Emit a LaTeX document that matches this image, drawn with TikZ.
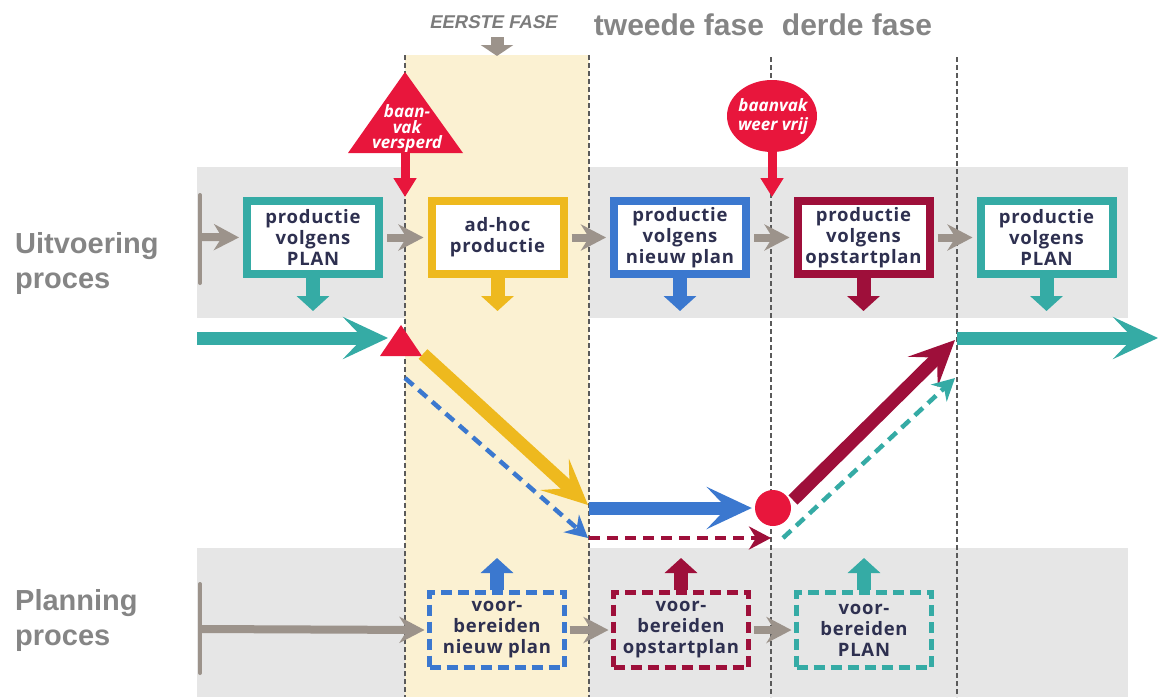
\documentclass[tikz,border=0pt]{standalone}
\usepackage{fontspec}
\setmainfont{Open Sans}
\newfontfamily\boxfont[LetterSpace=4]{Open Sans}
\newfontfamily\arialfont{Liberation Sans}
\newfontfamily\eerstefont[FakeSlant=0.2]{Liberation Sans}
\usetikzlibrary{arrows.meta,shapes.geometric}
\definecolor{tealc}{HTML}{35ABA5}
\definecolor{yelc}{HTML}{EEB91E}
\definecolor{bluc}{HTML}{3B78CF}
\definecolor{marc}{HTML}{9E0F3A}
\definecolor{redc}{HTML}{E8163C}
\definecolor{bandc}{HTML}{E6E6E6}
\definecolor{colc}{HTML}{FBF1D2}
\definecolor{garr}{HTML}{9C938B}
\definecolor{txtc}{HTML}{2E3050}
\definecolor{lblc}{HTML}{858585}
\definecolor{fasec}{HTML}{7C7C7C}
\definecolor{vlinec}{HTML}{5A5A5A}
\tikzset{
  pbox/.style={draw=#1, line width=8pt, fill=white, minimum width=132pt, minimum height=73pt,
    inner sep=0pt, text=txtc, align=center, font=\boxfont\fontsize{18.5}{21}\selectfont\bfseries},
  dbox/.style={draw=#1, line width=5pt, dash pattern=on 11pt off 6pt, minimum width=135pt,
    minimum height=75pt, inner sep=0pt, text=txtc, align=center, font=\boxfont\fontsize{18.5}{21}\selectfont\bfseries},
  gconn/.style={draw=garr, line width=8pt, -{Stealth[length=25pt,width=26pt,inset=8pt]}},
  blockdown/.style={draw=#1, line width=14pt, -{Triangle[length=15pt,width=32pt]}},
  redarr/.style={draw=redc, line width=9pt, -{Triangle[length=19pt,width=22pt]}},
  bigarr/.style={draw=#1, line width=13pt, -{Stealth[length=45pt,width=42pt,inset=20pt]}},
  dasharr/.style={draw=#1, line width=4.5pt, dash pattern=on 11pt off 7pt, -{Stealth[length=22pt,width=23pt,inset=7pt]}},
  vline/.style={draw=vlinec, line width=1.3pt, dash pattern=on 5pt off 3pt},
  lbl/.style={text=lblc, inner sep=0pt, anchor=base west, font=\arialfont\fontsize{29}{35}\selectfont\bfseries},
  phase/.style={text=lblc, inner sep=0pt, anchor=base, font=\arialfont\fontsize{30}{35}\selectfont\bfseries},
  redtxt/.style={text=white, inner sep=0pt, align=center},
}
\begin{document}
\begin{tikzpicture}[x=1pt,y=-1pt]
\useasboundingbox (0,0) rectangle (1159,697);
% bands
\fill[bandc] (197,167) rectangle (1128,318);
\fill[bandc] (197,548) rectangle (1128,697);
\fill[colc] (405,55) rectangle (589,697);
% vertical dashed lines
\draw[vline] (405,55) -- (405,697);
\draw[vline] (589,55) -- (589,697);
\draw[vline] (771,57) -- (771,697);
\draw[vline] (957,57) -- (957,697);
% headings
\node[text=fasec, inner sep=0pt, anchor=base, font=\eerstefont\fontsize{18.5}{20}\selectfont\bfseries] (f1) at (493,28.5) {EERSTE FASE};
\node[phase] (f2) at (679,35) {tweede fase};
\node[phase] (f3) at (857,35) {derde fase};
\coordinate (fa0) at (497,37);
\coordinate (fa1) at (497,56);
\draw[draw=garr, line width=13pt, -{Triangle[length=11pt,width=32pt]}] (fa0) -- (fa1);
% side labels
\node[lbl] (u1) at (15,253) {Uitvoering};
\node[lbl] (u2) at (15,288) {proces};
\node[lbl] (p1) at (15,610) {Planning};
\node[lbl] (p2) at (15,645) {proces};
% brackets
\coordinate (br1a) at (200,195); \coordinate (br1b) at (200,283);
\coordinate (br2a) at (200,584); \coordinate (br2b) at (200,673);
\draw[garr, line width=4pt, line cap=round] (br1a) -- (br1b);
\draw[garr, line width=4pt, line cap=round] (br2a) -- (br2b);
\coordinate (br1) at (200,237);
\coordinate (br2) at (200,629);
% production boxes
\node[pbox=tealc] (B1) at (313,237.5) {productie\\volgens\\PLAN};
\node[pbox=yelc] (B2) at (497.5,237.5) {ad-hoc\\productie};
\node[pbox=bluc] (B3) at (680,237.5) {productie\\volgens\\nieuw plan};
\node[pbox=marc] (B4) at (863.5,237.5) {productie\\volgens\\opstartplan};
\node[pbox=tealc] (B5) at (1046.5,237.5) {productie\\volgens\\PLAN};
\draw[gconn, shorten >=4pt] (br1) -- (B1.west);
\draw[gconn, shorten <=4pt, shorten >=4pt] (B1.east) -- (B2.west);
\draw[gconn, shorten <=4pt, shorten >=4pt] (B2.east) -- (B3.west);
\draw[gconn, shorten <=4pt, shorten >=4pt] (B3.east) -- (B4.west);
\draw[gconn, shorten <=4pt, shorten >=4pt] (B4.east) -- (B5.west);
\draw[blockdown=tealc] (B1.south) -- ++(0,33);
\draw[blockdown=yelc] (B2.south) -- ++(0,33);
\draw[blockdown=bluc] (B3.south) -- ++(0,33);
\draw[blockdown=marc] (B4.south) -- ++(0,33);
\draw[blockdown=tealc] (B5.south) -- ++(0,33);
% planning boxes
\node[dbox=bluc] (D1) at (497,630) {voor-\\bereiden\\nieuw plan};
\node[dbox=marc] (D2) at (681,630) {voor-\\bereiden\\opstartplan};
\node[dbox=tealc] (D3) at (864,630) {voor-\\bereiden\\PLAN};
\draw[gconn, shorten >=2.5pt] (br2) -- (D1.west);
\draw[gconn, shorten <=2.5pt, shorten >=2.5pt] (D1.east) -- (D2.west);
\draw[gconn, shorten <=2.5pt, shorten >=2.5pt] (D2.east) -- (D3.west);
\draw[blockdown=bluc] (D1.north) -- ++(0,-32);
\draw[blockdown=marc] (D2.north) -- ++(0,-32);
\draw[blockdown=tealc] (D3.north) -- ++(0,-32);
% red triangle event
\coordinate (tA) at (405,72); \coordinate (tB) at (348,153); \coordinate (tC) at (463,153);
\fill[redc] (tA) -- (tB) -- (tC) -- cycle;
\node[redtxt, font=\fontsize{17}{15.5}\selectfont\bfseries\itshape] (tri) at (407,129) {baan-\\vak\\versperd};
\coordinate (trb) at (405,152); \coordinate (trt) at (405,197);
\draw[redarr] (trb) -- (trt);
% red ellipse event
\node[ellipse, fill=redc, minimum width=90pt, minimum height=72pt, inner sep=0pt] (vrij) at (772,116) {};
\node[redtxt, font=\fontsize{17}{19}\selectfont\bfseries\itshape] (vrijt) at (773,117) {baanvak\\weer vrij};
\coordinate (vrt) at (772,197);
\draw[redarr] (vrij.south) -- (vrt);
% flow arrows
\coordinate (tl0) at (197,338); \coordinate (tl1) at (388,338);
\draw[bigarr=tealc] (tl0) -- (tl1);
\coordinate (sA) at (401,325); \coordinate (sB) at (380,356); \coordinate (sC) at (422,356);
\fill[redc] (sA) -- (sB) -- (sC) -- cycle;
\coordinate (y0) at (423,354); \coordinate (y1) at (588,505);
\draw[bigarr=yelc] (y0) -- (y1);
\coordinate (bd0) at (405,378); \coordinate (bd1) at (588,538);
\draw[dasharr=bluc] (bd0) -- (bd1);
\node[circle, fill=redc, minimum size=36pt, inner sep=0pt] (rc) at (773,508) {};
\coordinate (b0) at (589,508);
\draw[bigarr=bluc, shorten >=3pt] (b0) -- (rc.west);
\coordinate (md0) at (589,538); \coordinate (md1) at (771,538);
\draw[dasharr=marc] (md0) -- (md1);
\coordinate (m0) at (793,500); \coordinate (m1) at (955,340);
\draw[bigarr=marc] (m0) -- (m1);
\coordinate (td0) at (783,538); \coordinate (td1) at (955,378);
\draw[dasharr=tealc] (td0) -- (td1);
\coordinate (tr0) at (957,338); \coordinate (tr1) at (1158,338);
\draw[bigarr=tealc] (tr0) -- (tr1);
\end{tikzpicture}
\end{document}
